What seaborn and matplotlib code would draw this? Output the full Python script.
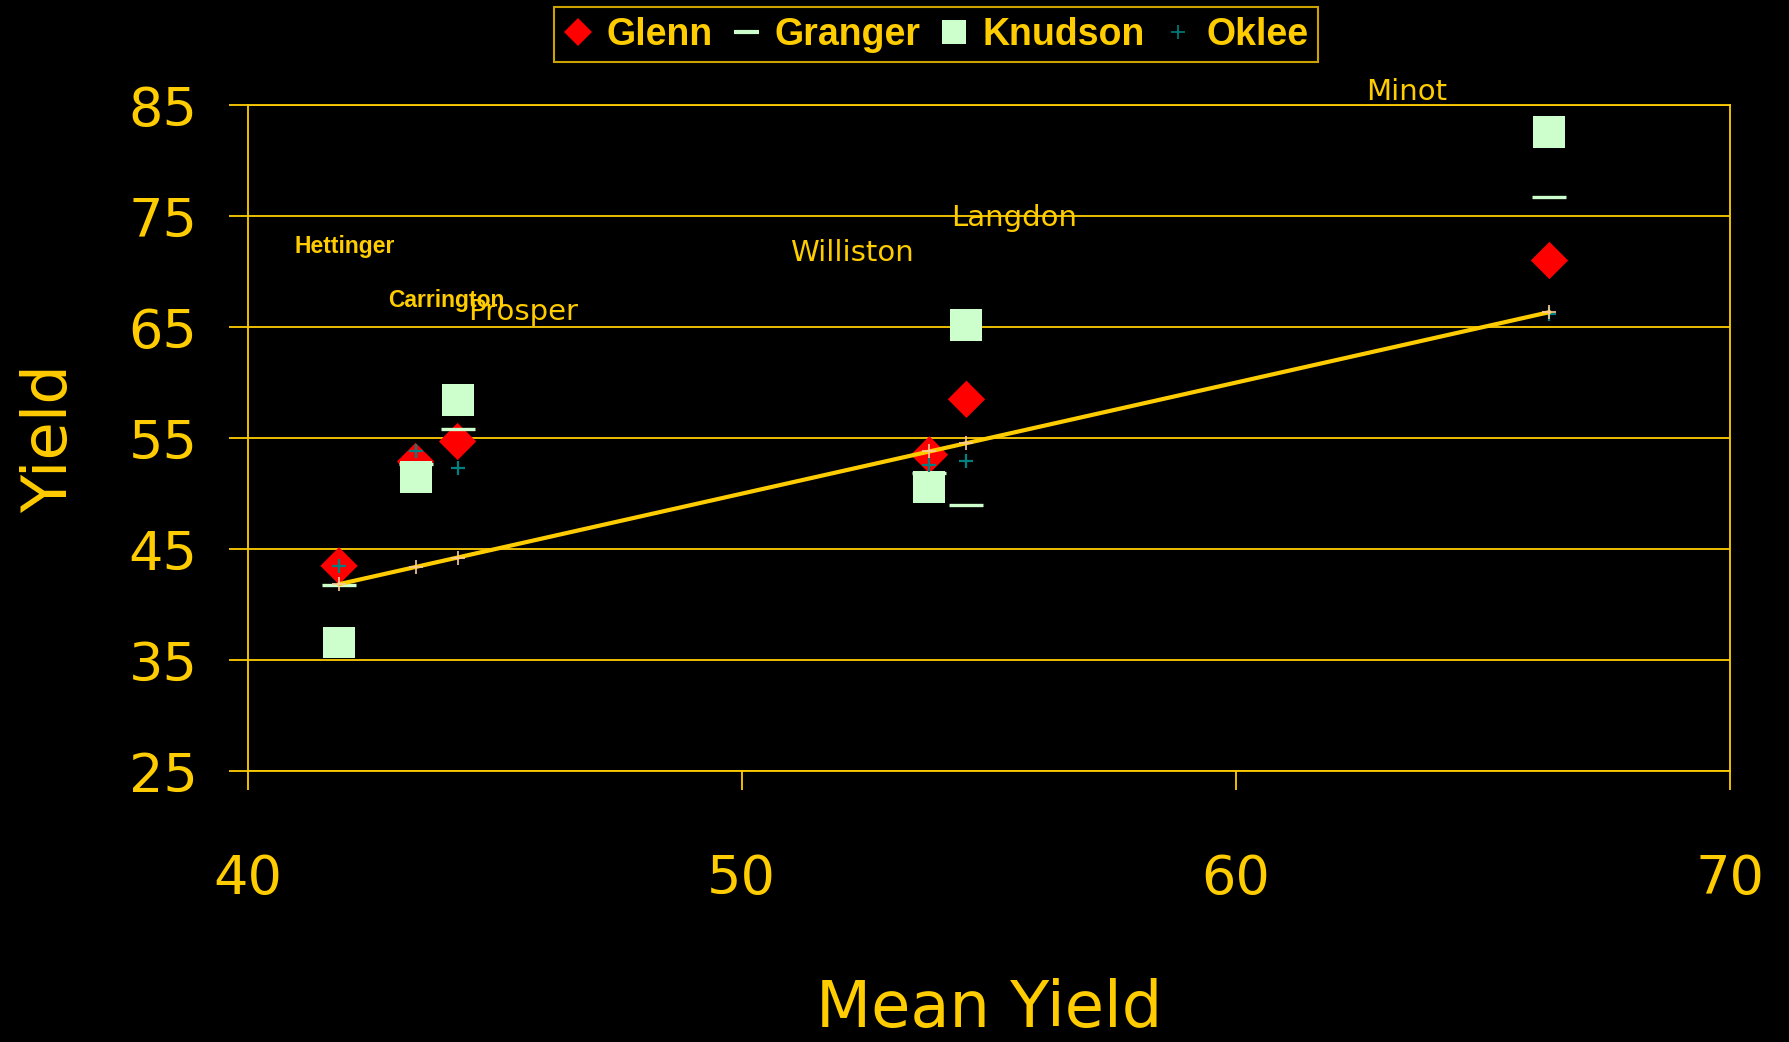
import pandas as pd
import seaborn as sns
from matplotlib import pyplot as plt
from matplotlib.lines import Line2D

# site means and variety yields
sites = ["Hettinger", "Carrington", "Prosper", "Williston", "Langdon", "Minot"]
mean_yield = [41.85, 43.4, 44.25, 53.8, 54.55, 66.35]
glenn = [43.5, 52.9, 54.7, 53.5, 58.5, 71.0]
granger = [41.8, 52.7, 55.8, 51.9, 49.0, 76.7]
knudson = [36.6, 51.5, 58.4, 50.6, 65.2, 82.6]
oklee = [43.5, 53.8, 52.3, 52.6, 52.9, 66.2]

# label positions (x, y) for each site name
label_x = [40.95, 42.84, 44.46, 50.97, 54.23, 62.63]
label_y = [72.3, 67.4, 66.4, 71.7, 74.8, 86.2]
label_bold = [True, True, False, False, False, False]

gold = "#FFCC00"
data = pd.DataFrame({"site": sites, "mean": mean_yield, "Glenn": glenn,
                     "Granger": granger, "Knudson": knudson, "Oklee": oklee})

sns.set_style("dark", {"axes.facecolor": "black", "figure.facecolor": "black"})
plt.rcParams['font.family'] = ['DejaVu Sans']

fig = plt.figure(figsize=(17.89, 10.42), dpi=100, facecolor="black")
ax = fig.add_axes([0.1384, 0.2598, 0.8285, 0.6394])
ax.set_facecolor("black")

sns.scatterplot(data=data, x="mean", y="Glenn", marker="D", s=19 ** 2, color="#FF0000",
                edgecolor="none", ax=ax, zorder=3)
sns.scatterplot(data=data, x="mean", y="Granger", marker="_", s=24 ** 2, color="#CCFFCC",
                linewidth=2.4, ax=ax, zorder=3)
sns.scatterplot(data=data, x="mean", y="Knudson", marker="s", s=23 ** 2, color="#CCFFCC",
                edgecolor="none", ax=ax, zorder=3)
sns.scatterplot(data=data, x="mean", y="Oklee", marker="+", s=10 ** 2, color="#008080",
                linewidth=1.6, ax=ax, zorder=4)
sns.lineplot(data=data, x="mean", y="mean", color=gold, linewidth=3, ax=ax, zorder=4)
sns.scatterplot(data=data, x="mean", y="mean", marker="+", s=10 ** 2, color="#FFCC99",
                linewidth=1.2, ax=ax, zorder=5)

for name, lx, ly, b in zip(sites, label_x, label_y, label_bold):
    if b:
        ax.text(lx, ly, name, color=gold, fontsize=16.5, fontweight="bold",
                family="Liberation Sans", ha="left", va="center", clip_on=False)
    else:
        ax.text(lx, ly, name, color=gold, fontsize=21, ha="left", va="center",
                clip_on=False)

ax.set_xlim(40, 70)
ax.set_ylim(25, 85)
ax.set_xticks([40, 50, 60, 70])
ax.set_yticks([25, 35, 45, 55, 65, 75, 85])
ax.grid(False)
ax.yaxis.grid(True, color=gold, linewidth=1.3)
for s in ax.spines.values():
    s.set_visible(True)
    s.set_color(gold)
    s.set_linewidth(1.3)

ax.tick_params(axis="both", colors=gold, labelcolor=gold, labelsize=39,
               length=14, width=1.3, direction="out")
ax.tick_params(axis="x", pad=45)
ax.tick_params(axis="y", pad=22)
ax.tick_params(left=True, bottom=True)

ax.set_xlabel("Mean Yield", color=gold, fontsize=46)
ax.set_ylabel("Yield", color=gold, fontsize=45)
ax.xaxis.set_label_coords(0.5, -0.357)
ax.xaxis.label.set_va("center")
ax.yaxis.set_label_coords(-0.133, 0.5)
ax.yaxis.label.set_va("center")

handles = [
    Line2D([], [], linestyle="none", marker="D", markersize=14, color="#FF0000", markeredgewidth=0),
    Line2D([], [], linestyle="none", marker="_", markersize=18, color="#CCFFCC", markeredgewidth=3),
    Line2D([], [], linestyle="none", marker="s", markersize=17, color="#CCFFCC", markeredgewidth=0),
    Line2D([], [], linestyle="none", marker="+", markersize=10, color="#008080", markeredgewidth=1.2),
]
leg = fig.legend(handles, ["Glenn", "Granger", "Knudson", "Oklee"], loc="upper center",
                 bbox_to_anchor=(0.523, 0.993), ncol=4, frameon=True, fancybox=False,
                 facecolor="black", edgecolor=gold, handlelength=0.8, handletextpad=0.35,
                 columnspacing=0.5, borderpad=0.25, borderaxespad=0,
                 prop={"family": "Liberation Sans", "weight": "bold", "size": 27})
leg.get_frame().set_linewidth(1.5)
for t in leg.get_texts():
    t.set_color(gold)

fig.savefig("out.png", dpi=100, facecolor="black")
